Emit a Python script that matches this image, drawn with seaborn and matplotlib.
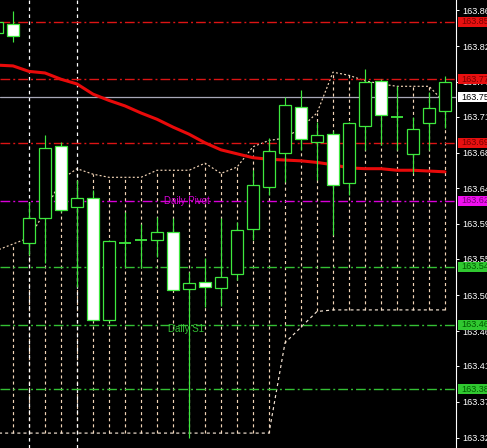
import numpy as np
import pandas as pd
import seaborn as sns
import matplotlib.pyplot as plt
import matplotlib.transforms as mtransforms
from matplotlib.patches import Rectangle

# bar data (index 0 = partial bar at the left edge)
opens = [163.835, 163.847, 163.567, 163.599, 163.691, 163.613, 163.625, 163.469,
         163.567, 163.571, 163.571, 163.581, 163.509, 163.518, 163.510, 163.528,
         163.585, 163.639, 163.682, 163.740, 163.696, 163.706, 163.644, 163.716,
         163.774, 163.728, 163.681, 163.720, 163.735]
highs = [163.852, 163.863, 163.620, 163.705, 163.696, 163.648, 163.635, 163.571,
         163.607, 163.592, 163.600, 163.599, 163.530, 163.548, 163.599, 163.594,
         163.660, 163.701, 163.753, 163.762, 163.721, 163.710, 163.722, 163.789,
         163.776, 163.767, 163.728, 163.760, 163.780]
lows = [163.830, 163.823, 163.552, 163.542, 163.607, 163.511, 163.468, 163.468,
        163.537, 163.535, 163.550, 163.507, 163.319, 163.486, 163.487, 163.520,
        163.571, 163.628, 163.645, 163.686, 163.648, 163.577, 163.628, 163.686,
        163.692, 163.686, 163.656, 163.686, 163.714]
closes = [163.849, 163.831, 163.599, 163.688, 163.609, 163.625, 163.469, 163.570,
          163.568, 163.571, 163.581, 163.507, 163.516, 163.511, 163.524, 163.584,
          163.641, 163.684, 163.743, 163.700, 163.705, 163.641, 163.720, 163.772,
          163.730, 163.728, 163.713, 163.739, 163.772]

ma_values = [163.794, 163.793, 163.786, 163.784, 163.776, 163.770, 163.757, 163.749,
             163.742, 163.733, 163.725, 163.715, 163.706, 163.695, 163.686, 163.681,
             163.676, 163.674, 163.673, 163.672, 163.670, 163.667, 163.663, 163.662,
             163.662, 163.660, 163.660, 163.659, 163.658]

band_top = [163.558, 163.566, 163.574, 163.607, 163.648, 163.662, 163.655, 163.651,
            163.651, 163.651, 163.660, 163.660, 163.660, 163.669, 163.656, 163.664,
            163.690, 163.698, 163.701, 163.714, 163.733, 163.785, 163.781, 163.774,
            163.770, 163.767, 163.767, 163.767, 163.746]
band_bottom = [163.325] * 18 + [163.440, 163.460, 163.480] + [163.482] * 8

separators = [2, 5]

level_values = [163.849, 163.776, 163.695, 163.621, 163.537, 163.463, 163.381]
level_labels = ["163.85", "163.77", "163.69", "163.62", "163.54", "163.46", "163.38"]
level_kinds = ["r", "r", "r", "p", "s", "s", "s"]
bid_value = 163.753
bid_label = "163.75"

tick_values = [163.864, 163.818, 163.773, 163.728, 163.682, 163.637, 163.592,
               163.547, 163.501, 163.455, 163.411, 163.365, 163.319]
tick_labels = ["163.86", "163.82", "163.77", "163.71", "163.68", "163.64", "163.59",
               "163.55", "163.50", "163.46", "163.41", "163.37", "163.32"]

line_colors = {"r": "#dc1414", "p": "#d800d8", "s": "#34c034"}
box_colors = {"r": "#e81010", "p": "#f010f0", "s": "#30c830"}
box_text = {"r": "#7a0000", "p": "#7a007a", "s": "#005a00"}

sns.set_style("dark", {"axes.facecolor": "black", "figure.facecolor": "black"})
plt.rcParams["font.family"] = ["Liberation Sans", "DejaVu Sans"]
plt.rcParams["lines.scale_dashes"] = False

fig = plt.figure(figsize=(4.87, 4.48), dpi=100)
ax = fig.add_axes([0, 0, 456 / 487, 1])
ax.set_facecolor("black")

df = pd.DataFrame({"bar": np.arange(len(opens)), "ma": ma_values,
                   "top": band_top, "bottom": band_bottom})

# dashed histogram between band buffers
peach = "#f4d6b8"
ax.vlines(df["bar"], df["bottom"], df["top"], colors=peach, linewidth=0.85,
          linestyles=(0, (2.2, 2.2)), zorder=1)
sns.lineplot(data=df, x="bar", y="top", ax=ax, color=peach, linewidth=0.85,
             linestyle=(0, (1.4, 1.6)), zorder=1)
sns.lineplot(data=df, x="bar", y="bottom", ax=ax, color="#f4e4d4", linewidth=0.85,
             linestyle=(0, (2.2, 2.2)), zorder=1)

# day separators
for s in separators:
    ax.axvline(s, color="white", linewidth=0.9, linestyle=(0, (2.5, 2.5)), zorder=2)

# pivot levels
for val, kind in zip(level_values, level_kinds):
    ax.axhline(val, color=line_colors[kind], linewidth=1.0,
               linestyle=(0, (7, 2.2, 1.4, 2.2)), zorder=2)
ax.axhline(bid_value, color="#a8a8b8", linewidth=0.9, zorder=2)

ax.text(10.45, 163.621, "Daily Pivot", color="#d800d8", fontsize=7,
        va="center", ha="left", zorder=3)
ax.text(10.7, 163.458, "Daily S1", color="#34c034", fontsize=7,
        va="center", ha="left", zorder=3)

# moving average
sns.lineplot(data=df, x="bar", y="ma", ax=ax, color="#e80a0a", linewidth=2.2, zorder=4)

# candles
body_w = 0.69
green = "#3ee83e"
for i, (o, h, l, c) in enumerate(zip(opens, highs, lows, closes)):
    ax.vlines(i, l, h, colors=green, linewidth=0.85, zorder=5)
    lo, hi = min(o, c), max(o, c)
    if hi - lo < 0.0015:
        ax.hlines(o, i - body_w / 2, i + body_w / 2, colors=green, linewidth=1.3, zorder=6)
        continue
    face = "black" if c > o else "white"
    ax.add_patch(Rectangle((i - body_w / 2, lo), body_w, hi - lo, facecolor=face,
                           edgecolor=green, linewidth=0.9, zorder=6))

ax.set_xlim(3 / 16, 459 / 16)
ax.set_ylim(163.306, 163.877)
ax.set_xticks([])
ax.yaxis.tick_right()
ax.set_yticks(tick_values)
ax.set_yticklabels(tick_labels)
ax.tick_params(axis="y", colors="white", labelcolor="white", length=2.5, width=0.7,
               pad=2, labelsize=6.6, right=True, left=False)
ax.set_xlabel("")
ax.set_ylabel("")
ax.grid(False)
for side in ["top", "bottom", "left"]:
    ax.spines[side].set_visible(False)
ax.spines["right"].set_color("white")
ax.spines["right"].set_linewidth(0.8)

# price boxes on the scale
trans = mtransforms.blended_transform_factory(ax.transAxes, ax.transData)
box_h = 0.0125
x0 = 458 / 456
for val, lab, kind in zip(level_values + [bid_value], level_labels + [bid_label],
                          level_kinds + ["b"]):
    bg = box_colors.get(kind, "white")
    fg = box_text.get(kind, "black")
    ax.add_patch(Rectangle((x0, val - box_h / 2), 40 / 456, box_h, transform=trans,
                           facecolor=bg, edgecolor="none", clip_on=False, zorder=10))
    ax.text(461 / 456, val, lab, transform=trans, color=fg, fontsize=6.6,
            va="center", ha="left", clip_on=False, zorder=11)

fig.savefig("out.png", dpi=100, facecolor="black")
